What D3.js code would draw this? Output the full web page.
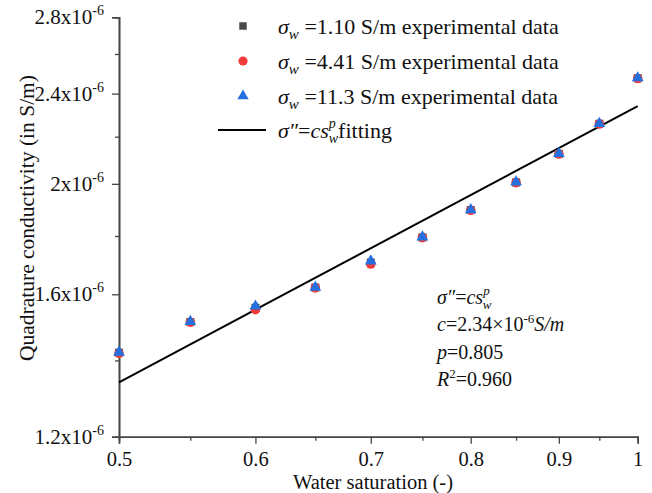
<!DOCTYPE html>
<html>
<head>
<meta charset="utf-8">
<script src="https://cdn.jsdelivr.net/npm/d3@7"></script>
<style>
  body { margin: 0; background: #fff; }
  svg { display: block; font-family: "Liberation Serif", "Times New Roman", serif; }
</style>
</head>
<body>
<div id="chart"></div>
<script>
const saturation = [0.5, 0.55, 0.6, 0.65, 0.7, 0.75, 0.8, 0.85, 0.9, 0.95, 1.0];
const sigma110 = [1.422, 1.513, 1.557, 1.622, 1.706, 1.795, 1.897, 2.006, 2.125, 2.258, 2.476];
const sigma441 = [1.420, 1.512, 1.551, 1.621, 1.701, 1.794, 1.896, 2.005, 2.124, 2.257, 2.474];
const sigma113 = [1.423, 1.514, 1.562, 1.623, 1.711, 1.796, 1.898, 2.007, 2.126, 2.259, 2.477];
const fitC = 2.34;
const fitP = 0.805;
const fitX = [0.5, 1.0];
const yMajor = [1.2, 1.6, 2.0, 2.4, 2.8];
const yMinor = [1.4, 1.8, 2.2, 2.6];
const xMajor = [0.5, 0.6, 0.7, 0.8, 0.9, 1.0];
const xMinor = [0.55, 0.65, 0.75, 0.85, 0.95];
const yLabels = ["1.2", "1.6", "2", "2.4", "2.8"];

const width = 652, height = 493;
const svg = d3.select("#chart").append("svg").attr("width", width).attr("height", height);

const x = d3.scaleLog().domain([0.5, 1.0]).range([119, 637.7]);
const y = d3.scaleLog().domain([1.2, 2.8]).range([436.7, 17.3]);
const axisColor = "#444";

// axes
const xAxis = svg.append("g").attr("transform", `translate(0,${y(1.2)})`)
  .call(d3.axisBottom(x).tickValues(xMajor).tickSize(7).tickFormat((d) => d === 1 ? "1" : d3.format(".1f")(d)));
svg.append("g").attr("transform", `translate(0,${y(1.2)})`)
  .call(d3.axisBottom(x).tickValues(xMinor).tickSize(4).tickFormat(""));
svg.append("g").attr("transform", `translate(${x(0.5)},0)`)
  .call(d3.axisLeft(y).tickValues(yMajor).tickSize(7).tickFormat(""));
svg.append("g").attr("transform", `translate(${x(0.5)},0)`)
  .call(d3.axisLeft(y).tickValues(yMinor).tickSize(4).tickFormat(""));

svg.selectAll(".domain").attr("stroke", axisColor).attr("stroke-width", 1.6);
svg.selectAll(".tick line").attr("stroke", axisColor).attr("stroke-width", 1.3);

xAxis.selectAll(".tick text").attr("font-family", "Liberation Serif").attr("font-size", 20.5)
  .attr("fill", "#111").attr("dy", null).attr("y", 29);

// y tick labels with superscript exponent
const yl = svg.append("g").attr("font-size", 21).attr("fill", "#111").attr("text-anchor", "end");
yMajor.forEach((v, i) => {
  const t = yl.append("text").attr("x", 104).attr("y", y(v) + 7);
  t.append("tspan").text(`${yLabels[i]}x10`);
  t.append("tspan").attr("font-size", 14).attr("dy", -9).text("-6");
});

// axis titles
svg.append("text").attr("x", 373).attr("y", 489).attr("text-anchor", "middle")
  .attr("font-size", 20.5).attr("fill", "#111").text("Water saturation (-)");
svg.append("text").attr("transform", `translate(34,218) rotate(-90)`).attr("text-anchor", "middle")
  .attr("font-size", 21.5).attr("fill", "#111").text("Quadrature conductivity (in S/m)");

// fitting line
const line = d3.line().x((d) => x(d)).y((d) => y(fitC * Math.pow(d, fitP)));
svg.append("path").datum(fitX).attr("d", line).attr("fill", "none")
  .attr("stroke", "#000").attr("stroke-width", 2);

// data
const gray = "#4a4a4a", red = "#f23b3b", blue = "#2470e0";
const sym = (type, size) => d3.symbol().type(type).size(size)();
svg.append("g").selectAll("path").data(saturation).join("path")
  .attr("transform", (d, i) => `translate(${x(d)},${y(sigma110[i])})`)
  .attr("d", sym(d3.symbolSquare, 64)).attr("fill", gray);
svg.append("g").selectAll("circle").data(saturation).join("circle")
  .attr("cx", (d) => x(d)).attr("cy", (d, i) => y(sigma441[i])).attr("r", 4.8).attr("fill", red);
svg.append("g").selectAll("path").data(saturation).join("path")
  .attr("transform", (d, i) => `translate(${x(d)},${y(sigma113[i])})`)
  .attr("d", sym(d3.symbolTriangle, 60)).attr("fill", blue);

// legend
const legend = svg.append("g").attr("font-size", 22).attr("fill", "#111");
const rows = [
  { label: "1.10", y: 26, draw: (g) => g.append("path").attr("d", sym(d3.symbolSquare, 56)).attr("fill", gray) },
  { label: "4.41", y: 61, draw: (g) => g.append("circle").attr("r", 4.6).attr("fill", red) },
  { label: "11.3", y: 96, draw: (g) => g.append("path").attr("d", sym(d3.symbolTriangle, 56)).attr("fill", blue) }
];
rows.forEach((r) => {
  r.draw(legend.append("g").attr("transform", `translate(243,${r.y})`));
  const t = legend.append("text").attr("x", 278).attr("y", r.y + 8);
  t.append("tspan").attr("font-style", "italic").text("σ");
  t.append("tspan").attr("font-style", "italic").attr("font-size", 15).attr("dy", 5).text("w");
  t.append("tspan").attr("dy", -5).text(` =${r.label} S/m experimental data`);
});
legend.append("line").attr("x1", 218).attr("x2", 266).attr("y1", 130).attr("y2", 130)
  .attr("stroke", "#000").attr("stroke-width", 2);
const ft = legend.append("text").attr("x", 278).attr("y", 138);
ft.append("tspan").attr("font-style", "italic").text("σ″");
ft.append("tspan").text("=");
ft.append("tspan").attr("font-style", "italic").text("cs");
ft.append("tspan").attr("font-style", "italic").attr("font-size", 14).attr("dy", -10).text("p");
ft.append("tspan").attr("font-style", "italic").attr("font-size", 14).attr("dx", -7).attr("dy", 15).text("w");
ft.append("tspan").attr("dy", -5).text("fitting");

// annotation
const ann = svg.append("g").attr("font-size", 20).attr("fill", "#111");
const a1 = ann.append("text").attr("x", 437).attr("y", 304);
a1.append("tspan").attr("font-style", "italic").text("σ″");
a1.append("tspan").text("=");
a1.append("tspan").attr("font-style", "italic").text("cs");
a1.append("tspan").attr("font-style", "italic").attr("font-size", 13).attr("dy", -9).text("p");
a1.append("tspan").attr("font-style", "italic").attr("font-size", 13).attr("dx", -7).attr("dy", 14).text("w");
const a2 = ann.append("text").attr("x", 437).attr("y", 331);
a2.append("tspan").attr("font-style", "italic").text("c");
a2.append("tspan").text("=2.34×10");
a2.append("tspan").attr("font-size", 13).attr("dy", -8).text("-6");
a2.append("tspan").attr("font-style", "italic").attr("dy", 8).text("S/m");
const a3 = ann.append("text").attr("x", 437).attr("y", 359);
a3.append("tspan").attr("font-style", "italic").text("p");
a3.append("tspan").text("=0.805");
const a4 = ann.append("text").attr("x", 437).attr("y", 386);
a4.append("tspan").attr("font-style", "italic").text("R");
a4.append("tspan").attr("font-size", 13).attr("dy", -8).text("2");
a4.append("tspan").attr("dy", 8).text("=0.960");
</script>
</body>
</html>
